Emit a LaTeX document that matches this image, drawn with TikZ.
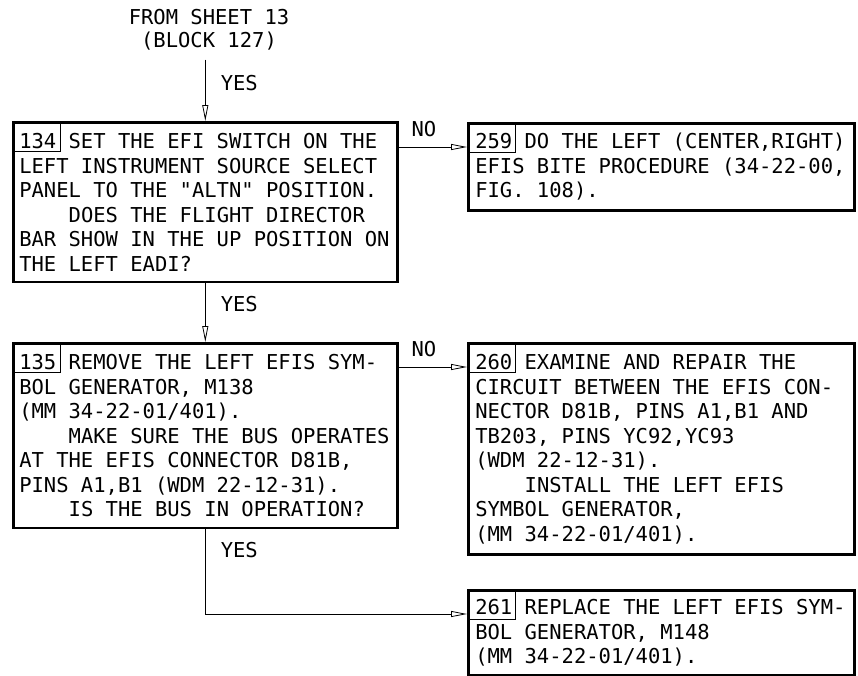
\documentclass[tikz,border=0pt]{standalone}
\usepackage{fontspec}
\newfontfamily\chartfont{DejaVu Sans Mono}
\usetikzlibrary{arrows.meta}
\usetikzlibrary{positioning}

\newcommand{\charspace}{\spaceskip=12.34pt\relax}
\newcommand{\ind}{\hspace*{49.4pt}}

\tikzset{
  chart/.style={font=\chartfont\fontsize{20.5}{24.5}\selectfont, execute at begin node=\charspace},
  block/.style={chart, draw, line width=2.6pt, anchor=north west, align=left,
    text width=372pt, inner xsep=6pt, inner ysep=11pt},
  wideblock/.style={block, inner xsep=7pt},
  flow/.style={line width=0.9pt, -{Triangle[open,length=16pt,width=6pt,line width=0.8pt]}},
  tag/.style={chart, inner sep=0pt},
  numline/.style={line width=0.8pt}
}

\begin{document}
\begin{tikzpicture}[x=1pt, y=-1pt]
\useasboundingbox (0,0) rectangle (858,675);

\node[chart, align=center, inner sep=9pt, font=\chartfont\fontsize{20.5}{23}\selectfont] (src) at (209,30) {FROM SHEET 13\\(BLOCK 127)};

% left column
\node[block] (b134) at (12,121) {134 SET THE EFI SWITCH ON THE\\ LEFT INSTRUMENT SOURCE SELECT\\ PANEL TO THE "ALTN" POSITION.\\ \ind DOES THE FLIGHT DIRECTOR\\ BAR SHOW IN THE UP POSITION ON\\ THE LEFT EADI?};
\node[block] (b135) at (12,342) {135 REMOVE THE LEFT EFIS SYM-\\ BOL GENERATOR, M138\\ (MM 34-22-01/401).\\ \ind MAKE SURE THE BUS OPERATES\\ AT THE EFIS CONNECTOR D81B,\\ PINS A1,B1 (WDM 22-12-31).\\ \ind IS THE BUS IN OPERATION?};

% right column
\node[wideblock, inner ysep=10pt] (b259) at (467,122) {259 DO THE LEFT (CENTER,RIGHT)\\ EFIS BITE PROCEDURE (34-22-00,\\ FIG. 108).};
\node[wideblock] (b260) at (467,342) {260 EXAMINE AND REPAIR THE\\ CIRCUIT BETWEEN THE EFIS CON-\\ NECTOR D81B, PINS A1,B1 AND\\ TB203, PINS YC92,YC93\\ (WDM 22-12-31).\\ \ind INSTALL THE LEFT EFIS\\ SYMBOL GENERATOR,\\ (MM 34-22-01/401).};
\node[wideblock, inner ysep=9pt] (b261) at (467,589) {261 REPLACE THE LEFT EFIS SYM-\\ BOL GENERATOR, M148\\ (MM 34-22-01/401).};

% block numbers
\foreach \b in {b134,b135,b259,b260,b261}
  \draw[numline] (\b.north west) rectangle ++(48,30);

\coordinate (in259) at ([yshift=-25pt]b259.north west);
\coordinate (in260) at ([yshift=-25pt]b260.north west);
\coordinate (in261) at ([yshift=-25pt]b261.north west);

\draw[flow] (b134.north |- src.south) -- node[tag, right=15pt, pos=0.38] {YES} (b134.north);
\draw[flow] (b134.south) -- node[tag, right=15pt, pos=0.35] {YES} (b135.north);
\draw[flow] (b134.east |- in259) -- node[tag, above=10pt, pos=0.37] {NO} (in259);
\draw[flow] (b135.east |- in260) -- node[tag, above=10pt, pos=0.37] {NO} (in260);
\draw[flow] (b135.south) |- node[tag, right=15pt, pos=0.125] {YES} (in261);
\end{tikzpicture}
\end{document}
